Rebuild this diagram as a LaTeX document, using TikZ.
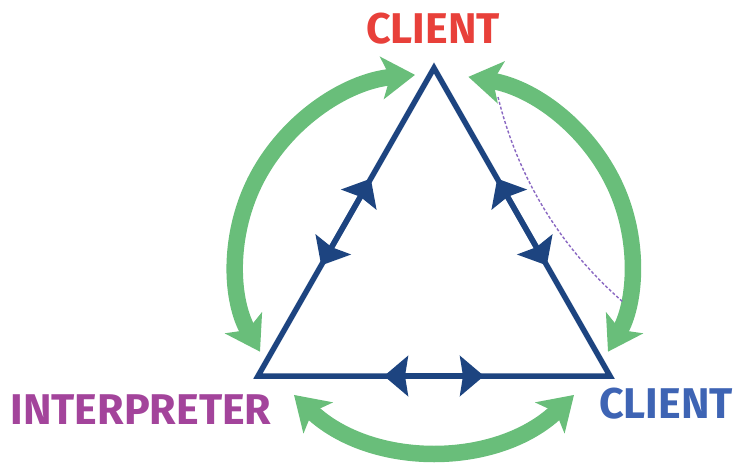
\documentclass[tikz,border=0pt]{standalone}
\usepackage{fontspec}
\newfontfamily\labelfont{Fira Sans}
\usetikzlibrary{arrows.meta,calc}
\definecolor{navyline}{HTML}{1D4480}
\definecolor{cyclegreen}{HTML}{69BE7A}
\definecolor{clientred}{HTML}{E8403A}
\definecolor{interpurple}{HTML}{A3449B}
\definecolor{clientblue}{HTML}{3E64B4}
\definecolor{linklilac}{HTML}{8A68C2}
\begin{document}
\begin{tikzpicture}[x=1pt,y=-1pt,
  edge/.style={draw=navyline,line width=5.5pt,line join=miter},
  edgetips/.style={draw=navyline,line width=5.5pt,
    {Stealth[length=24pt,width=40pt,inset=3pt]}-{Stealth[length=24pt,width=40pt,inset=3pt]}},
  cycle/.style={draw=cyclegreen,line width=16.5pt,
    {Stealth[length=33pt,width=42pt,inset=8pt]}-{Stealth[length=33pt,width=42pt,inset=8pt]}},
  rolelabel/.style={font=\labelfont\bfseries\fontsize{43}{43}\selectfont,inner sep=0pt},
  link/.style={draw=linklilac,line width=1.4pt,dash pattern=on 3pt off 2pt}]
\useasboundingbox (0,0) rectangle (735,463);

% corners of the triangle and the centre of the green cycle
\coordinate (top) at (434,68);
\coordinate (bl) at (258,376);
\coordinate (br) at (610,376);
\coordinate (ctr) at (434,262);

% role labels
\node[rolelabel,text=clientred] (clientA) at (433,29) {CLIENT};
\node[rolelabel,text=interpurple] (interp) at (141,410) {INTERPRETER};
\node[rolelabel,text=clientblue] (clientB) at (666,404) {CLIENT};

% green two-way arrows around the triangle
\draw[cycle] ($(ctr)+(264.5:198 and 188)$) arc[start angle=264.5,end angle=151.5,x radius=198,y radius=188];
\draw[cycle] ($(ctr)+(-80:198 and 188)$) arc[start angle=-80,end angle=28.5,x radius=198,y radius=188];
\draw[cycle] ($(ctr)+(135:198 and 188)$) arc[start angle=135,end angle=45,x radius=198,y radius=188];

% triangle
\draw[edge] (top) -- (bl) -- (br) -- cycle;

% paired arrowheads in the middle of each side
\coordinate (mL) at ($(bl)!.5!(top)$);
\coordinate (mR) at ($(br)!.5!(top)$);
\coordinate (mB) at ($(bl)!.5!(br)$);
\draw[edgetips] ($(mL)!50pt!(bl)$) -- ($(mL)!50pt!(top)$);
\draw[edgetips] ($(mR)!50pt!(br)$) -- ($(mR)!50pt!(top)$);
\draw[edgetips] ($(mB)!50pt!(bl)$) -- ($(mB)!50pt!(br)$);

% dashed link along the right side
\coordinate (d1) at (498,97);
\coordinate (d2) at (623,302);
\draw[link] (d1) .. controls (518,178) and (560,247) .. (d2);
\end{tikzpicture}
\end{document}
